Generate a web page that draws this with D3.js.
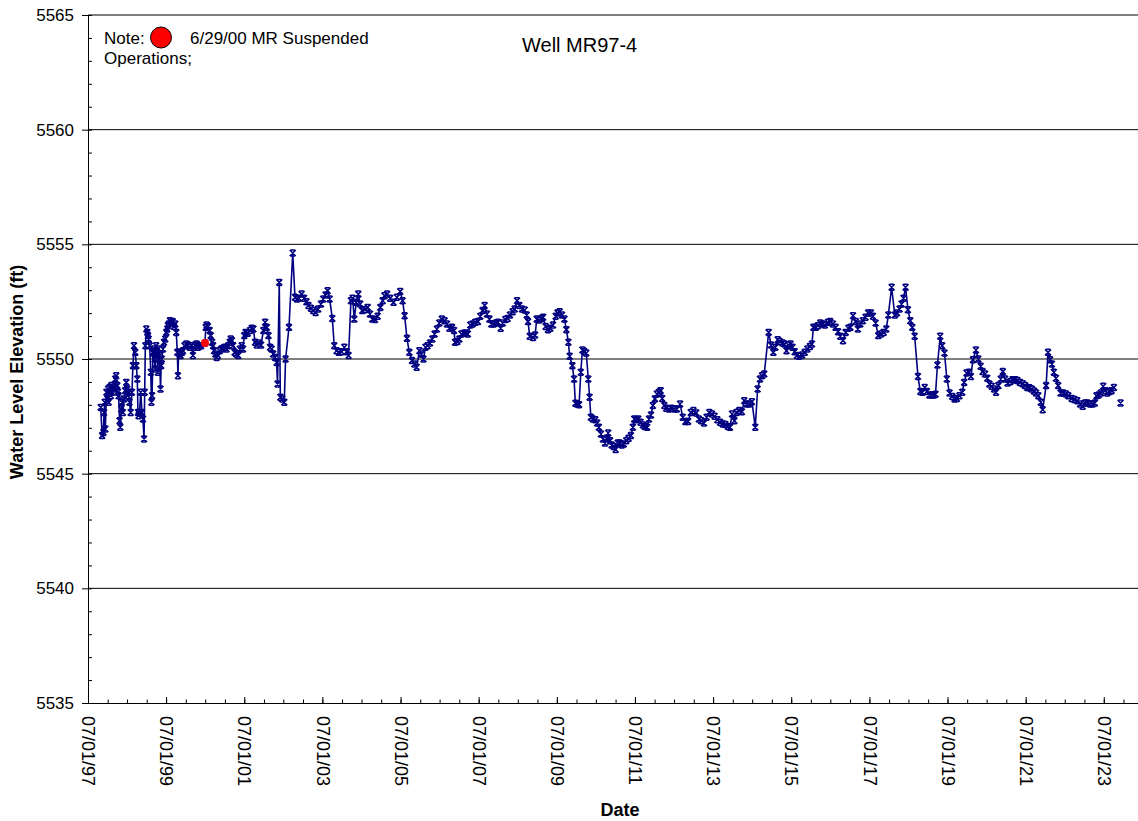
<!DOCTYPE html>
<html>
<head>
<meta charset="utf-8">
<script src="https://cdn.jsdelivr.net/npm/d3@7"></script>
<style>
  body { margin: 0; background: #fff; }
  text { font-family: "Liberation Sans", Arial, sans-serif; }
</style>
</head>
<body>
<svg id="chart" width="1138" height="821"></svg>
<script>
// water level readings, well MR97-4
var dates = [
  "1997-10-28","1997-11-10","1997-11-22","1997-11-28","1997-12-04","1997-12-10","1997-12-20","1997-12-29",
  "1998-01-05","1998-01-11","1998-01-20","1998-01-30","1998-02-05","1998-02-12","1998-02-21","1998-03-01",
  "1998-03-13","1998-03-22","1998-04-01","1998-04-07","1998-04-13","1998-04-22","1998-04-29","1998-05-08",
  "1998-05-14","1998-05-23","1998-06-02","1998-06-14","1998-06-24","1998-07-03","1998-07-09","1998-07-15",
  "1998-07-24","1998-08-04","1998-08-16","1998-08-25","1998-09-04","1998-09-16","1998-09-26","1998-10-05",
  "1998-10-11","1998-10-17","1998-10-26","1998-11-06","1998-11-18","1998-11-27","1998-12-07","1998-12-13",
  "1998-12-19","1998-12-28","1999-01-07","1999-01-13","1999-01-19","1999-01-29","1999-02-08","1999-02-14",
  "1999-02-20","1999-02-28","1999-03-09","1999-03-15","1999-03-21","1999-03-30","1999-04-09","1999-04-15",
  "1999-04-21","1999-05-01","1999-05-10","1999-05-16","1999-05-22","1999-06-02","1999-06-11","1999-06-23",
  "1999-07-03","1999-07-12","1999-07-18","1999-07-27","1999-08-06","1999-08-18","1999-09-01","1999-09-13",
  "1999-09-25","1999-10-04","1999-10-14","1999-10-20","1999-10-26","1999-11-05","1999-11-14","1999-11-26",
  "1999-12-06","1999-12-21","2000-01-06","2000-01-22","2000-02-07","2000-02-22","2000-03-08","2000-03-17",
  "2000-03-29","2000-04-11","2000-04-24","2000-05-09","2000-05-24","2000-06-29","2000-07-06","2000-07-14","2000-07-26",
  "2000-08-11","2000-08-21","2000-09-03","2000-09-12","2000-09-21","2000-10-04","2000-10-16","2000-10-28",
  "2000-11-13","2000-11-29","2000-12-14","2000-12-30","2001-01-15","2001-01-31","2001-02-15","2001-02-24",
  "2001-03-07","2001-03-19","2001-04-02","2001-04-17",
  "2001-05-06","2001-05-21","2001-06-07","2001-06-19","2001-07-01","2001-07-14","2001-08-02","2001-08-24",
  "2001-09-09","2001-09-24","2001-10-10","2001-10-25","2001-11-16","2001-12-05","2001-12-26","2002-01-12",
  "2002-01-27","2002-02-12","2002-02-27","2002-03-13","2002-03-28","2002-04-14","2002-04-29","2002-05-08",
  "2002-05-24","2002-06-03","2002-06-21","2002-07-10","2002-07-22","2002-08-23","2002-09-27","2002-10-18",
  "2002-11-06","2002-11-25","2002-12-19","2003-01-11","2003-02-02","2003-02-21","2003-03-16","2003-04-07",
  "2003-04-29","2003-05-23","2003-06-18","2003-07-09","2003-07-31","2003-08-19","2003-09-07","2003-10-02",
  "2003-10-20","2003-11-11","2003-12-03","2003-12-28","2004-01-22","2004-02-13","2004-03-02","2004-03-24",
  "2004-04-09","2004-04-24","2004-05-13","2004-06-01","2004-06-19","2004-07-08","2004-08-02","2004-08-27",
  "2004-09-18","2004-10-10","2004-11-04","2004-11-29","2004-12-24","2005-01-15","2005-02-01",
  "2005-02-25","2005-03-26","2005-04-26","2005-05-28","2005-06-28","2005-07-20","2005-08-08","2005-08-30",
  "2005-09-21","2005-10-16","2005-11-07","2005-11-29","2005-12-24","2006-01-12","2006-01-31","2006-02-19",
  "2006-03-10","2006-04-02","2006-04-24","2006-05-15","2006-06-06","2006-06-28","2006-07-22","2006-08-17",
  "2006-09-08","2006-09-30","2006-10-25","2006-11-13","2006-11-22","2006-12-14","2007-01-02","2007-01-21",
  "2007-02-12","2007-03-04","2007-03-22","2007-04-13","2007-05-05","2007-05-30","2007-06-24","2007-07-16",
  "2007-08-07","2007-08-26","2007-09-17","2007-10-09","2007-10-27","2007-11-18","2007-12-10","2007-12-29",
  "2008-01-23","2008-02-11","2008-03-06","2008-03-28","2008-04-19","2008-05-14","2008-06-02","2008-06-24",
  "2008-07-15","2008-08-09","2008-09-04","2008-09-22","2008-10-05","2008-10-20",
  "2008-11-21","2008-12-10","2008-12-25","2009-01-16","2009-02-08","2009-02-23","2009-03-18","2009-04-09",
  "2009-05-01","2009-05-26","2009-06-20","2009-07-08","2009-07-27","2009-08-18","2009-09-10","2009-09-28",
  "2009-10-17","2009-10-29","2009-11-23","2009-12-09","2009-12-21","2010-01-06","2010-01-25","2010-02-10",
  "2010-02-25","2010-03-14","2010-04-02","2010-04-21","2010-05-03","2010-05-15","2010-06-03","2010-06-25",
  "2010-07-13","2010-07-29","2010-08-17","2010-09-05","2010-09-24","2010-10-09","2010-10-24","2010-11-10",
  "2010-11-25","2010-12-14","2011-01-02","2011-01-21","2011-02-09","2011-03-01","2011-03-19","2011-04-11",
  "2011-05-02","2011-05-24","2011-06-12","2011-06-24","2011-07-13","2011-08-01","2011-08-23","2011-09-14",
  "2011-10-02","2011-10-24","2011-11-09","2011-11-28","2011-12-16","2012-01-04","2012-01-23","2012-02-11",
  "2012-02-26","2012-03-12","2012-04-01","2012-04-19","2012-05-14","2012-06-08","2012-07-03","2012-07-28",
  "2012-08-26","2012-09-20","2012-10-15","2012-11-09","2012-12-04","2012-12-29","2013-01-23","2013-02-17",
  "2013-03-12","2013-04-07","2013-05-01","2013-05-26","2013-06-20","2013-07-15","2013-08-09","2013-09-04",
  "2013-09-29","2013-10-23","2013-11-17","2013-12-06","2013-12-25","2014-01-16","2014-02-04","2014-03-02",
  "2014-03-27","2014-04-18","2014-05-10","2014-06-04","2014-06-29","2014-07-30","2014-08-21","2014-09-12",
  "2014-10-01","2014-10-22","2014-12-02","2014-12-24","2015-01-15","2015-02-03","2015-02-25","2015-03-16",
  "2015-04-11","2015-04-30","2015-05-18","2015-06-03","2015-06-25","2015-07-13","2015-08-02","2015-08-23",
  "2015-09-15","2015-10-10","2015-11-04","2015-11-29","2015-12-23","2016-01-11","2016-01-24","2016-02-15",
  "2016-03-07","2016-03-29","2016-04-20","2016-05-11",
  "2016-06-09","2016-06-30","2016-07-25","2016-08-19","2016-09-11","2016-10-02","2016-10-27","2016-11-21",
  "2016-12-16","2017-01-04","2017-01-29","2017-02-23","2017-03-15","2017-04-07","2017-05-01","2017-05-26",
  "2017-06-20","2017-07-15","2017-08-03","2017-08-28","2017-09-22","2017-10-17","2017-11-11","2017-12-06",
  "2017-12-25","2018-01-25","2018-02-23","2018-03-15","2018-04-09","2018-04-28","2018-05-16","2018-06-04",
  "2018-06-26","2018-07-18","2018-08-06","2018-08-28","2018-09-28","2018-10-20","2018-11-08","2018-11-30",
  "2018-12-21","2019-01-12","2019-02-03","2019-02-25","2019-03-11","2019-03-29","2019-04-24","2019-05-12",
  "2019-06-03","2019-06-25","2019-07-20","2019-08-14","2019-09-05","2019-09-27","2019-10-21","2019-11-16",
  "2019-12-04","2019-12-26","2020-01-17","2020-02-05","2020-02-24",
  "2020-03-23","2020-04-14","2020-05-06","2020-05-24","2020-06-16","2020-07-07","2020-07-26","2020-08-17",
  "2020-09-08","2020-09-27","2020-10-19","2020-11-10","2020-11-29","2020-12-20","2021-01-12","2021-02-06",
  "2021-03-01","2021-03-23","2021-04-14","2021-05-08","2021-06-03","2021-06-25","2021-07-16","2021-08-04",
  "2021-08-26","2021-09-17","2021-10-06","2021-10-27","2021-11-19","2021-12-07","2022-01-08","2022-01-26",
  "2022-02-14","2022-03-03","2022-03-21","2022-04-10","2022-05-01","2022-05-23","2022-06-17","2022-07-12",
  "2022-08-03","2022-09-04","2022-09-29","2022-10-26","2022-11-21","2022-12-16","2023-01-07","2023-01-29",
  "2023-02-23","2023-03-18","2023-04-09","2023-04-24","2023-05-13","2023-06-04","2023-06-26","2023-07-14",
  "2023-08-02","2023-08-24","2023-09-12","2023-10-04","2023-11-05","2023-12-05"
];
var levels = [
  5547.89,5546.66,5546.80,5547.67,5548.11,5546.95,5548.55,5548.26,
  5548.69,5548.11,5548.76,5548.40,5548.84,5548.55,5548.76,5548.69,
  5549.13,5549.27,5548.84,5548.55,5548.40,5547.31,5547.02,5547.82,
  5548.11,5547.67,5548.26,5548.62,5548.98,5548.69,5548.40,5548.55,
  5548.11,5547.67,5548.55,5549.71,5550.58,5550.29,5549.71,5549.13,
  5547.67,5547.53,5547.67,5548.55,5547.67,5547.38,5546.51,5548.55,
  5550.58,5551.31,5551.16,5551.02,5550.87,5550.58,5549.42,5548.11,
  5548.40,5550.29,5550.44,5550.00,5549.56,5550.58,5550.29,5549.42,
  5550.44,5550.15,5548.69,5549.71,5550.00,5550.44,5550.73,5550.87,
  5551.16,5551.31,5551.45,5551.53,5551.67,5551.60,5551.63,5551.42,
  5551.53,5551.16,5550.29,5549.27,5550.29,5550.22,5550.15,5550.29,
  5550.36,5550.58,5550.65,5550.61,5550.51,5550.58,5550.15,5550.51,
  5550.61,5550.65,5550.51,5550.58,5550.58,5550.70,5551.38,5551.48,5551.42,
  5551.24,5551.02,5550.73,5550.58,5550.36,5550.22,5550.07,5550.15,
  5550.36,5550.44,5550.47,5550.51,5550.44,5550.58,5550.73,5550.87,
  5550.80,5550.58,5550.29,5550.22,
  5550.15,5550.44,5550.58,5550.44,5551.02,5551.16,5551.12,5551.24,
  5551.34,5551.31,5550.73,5550.61,5550.70,5550.61,5551.24,5551.60,
  5551.38,5551.02,5550.51,5550.44,5550.22,5550.07,5549.85,5548.91,
  5553.34,5548.33,5548.26,5548.11,5550.00,5551.38,5554.62,5552.69,
  5552.62,5552.65,5552.83,5552.65,5552.50,5552.33,5552.21,5552.11,
  5552.03,5552.18,5552.40,5552.62,5552.79,5552.98,5552.62,5551.77,
  5550.58,5550.36,5550.29,5550.32,5550.51,5550.32,5550.15,5552.54,
  5552.65,5551.74,5552.47,5552.83,5552.40,5552.11,5552.15,5552.25,
  5551.96,5551.74,5551.72,5551.86,5552.25,5552.54,5552.76,
  5552.83,5552.65,5552.47,5552.69,5552.94,5552.54,5551.89,5550.90,
  5550.29,5549.93,5549.78,5549.64,5550.36,5550.22,5550.00,5550.51,
  5550.58,5550.70,5550.87,5551.09,5551.31,5551.57,5551.74,5551.67,
  5551.53,5551.34,5551.38,5551.24,5550.73,5550.76,5550.87,5551.09,
  5551.12,5551.13,5551.09,5551.48,5551.53,5551.60,5551.63,5551.86,
  5552.11,5552.33,5551.96,5551.74,5551.53,5551.53,5551.57,5551.60,
  5551.34,5551.57,5551.72,5551.77,5551.92,5552.06,5552.18,5552.54,
  5552.33,5552.18,5552.14,5551.92,5551.63,5550.99,
  5550.94,5551.05,5551.74,5551.70,5551.77,5551.82,5551.42,5551.28,
  5551.34,5551.48,5551.86,5552.01,5552.06,5551.92,5551.74,5551.28,
  5550.73,5550.12,5549.71,5549.13,5548.07,5548.04,5548.01,5549.42,
  5550.39,5550.33,5550.26,5549.13,5548.33,5547.46,5547.38,5547.35,
  5547.21,5547.02,5546.73,5546.51,5546.34,5546.54,5546.77,5546.44,
  5546.25,5546.19,5546.05,5546.34,5546.34,5546.25,5546.29,5546.44,
  5546.54,5546.66,5547.02,5547.38,5547.35,5547.38,5547.24,5547.12,
  5547.06,5547.02,5547.38,5547.56,5547.97,5548.26,5548.47,5548.55,
  5548.62,5548.28,5547.97,5547.85,5547.82,5547.85,5547.82,5547.82,
  5548.04,5547.46,5547.27,5547.28,5547.67,5547.75,5547.65,5547.38,
  5547.31,5547.21,5547.46,5547.67,5547.60,5547.50,5547.35,5547.24,
  5547.17,5547.14,5547.06,5547.02,5547.60,5547.31,5547.67,5547.75,
  5547.70,5548.18,5548.04,5548.04,5548.14,5547.02,5548.69,5549.13,
  5549.27,5549.35,5551.16,5550.61,5550.29,5550.51,5550.84,5550.76,
  5550.70,5550.65,5550.36,5550.61,5550.65,5550.51,5550.32,5550.15,
  5550.12,5550.17,5550.29,5550.44,5550.55,5550.65,5551.38,5551.38,
  5551.45,5551.57,5551.53,5551.48,
  5551.60,5551.63,5551.53,5551.38,5551.19,5550.99,5550.80,5551.16,
  5551.34,5551.38,5551.89,5551.63,5551.31,5551.53,5551.67,5551.82,
  5552.01,5552.01,5551.86,5551.57,5551.02,5551.09,5551.16,5551.31,
  5551.92,5553.13,5551.92,5552.01,5552.18,5552.40,5552.65,5553.13,
  5552.15,5551.67,5551.38,5550.99,5549.24,5548.58,5548.55,5548.76,
  5548.58,5548.43,5548.43,5548.43,5548.46,5549.74,5550.99,5550.58,
  5550.26,5549.13,5548.52,5548.37,5548.26,5548.28,5548.40,5548.55,
  5548.98,5549.39,5549.42,5549.24,5549.97,
  5550.39,5550.00,5549.68,5549.45,5549.35,5549.16,5548.91,5548.81,
  5548.69,5548.55,5548.84,5549.13,5549.45,5549.13,5548.95,5549.01,
  5549.10,5549.10,5549.06,5548.98,5548.92,5548.84,5548.76,5548.75,
  5548.69,5548.60,5548.52,5548.40,5548.11,5547.79,5548.84,5550.29,
  5549.97,5549.78,5549.42,5549.16,5548.84,5548.52,5548.52,5548.47,
  5548.40,5548.28,5548.23,5548.18,5548.04,5547.94,5548.08,5548.08,
  5548.04,5548.04,5548.08,5548.40,5548.43,5548.52,5548.81,5548.62,
  5548.52,5548.58,5548.62,5548.76,null,5548.08
];

// note point (MR suspended operations)
var noteDates = ["2000-06-29"];
var noteLevels = [5550.70];

var yTicks = [5535, 5540, 5545, 5550, 5555, 5560, 5565];
var xLabelDates = ["1997-07-01","1999-07-01","2001-07-01","2003-07-01","2005-07-01","2007-07-01","2009-07-01",
                   "2011-07-01","2013-07-01","2015-07-01","2017-07-01","2019-07-01","2021-07-01","2023-07-01"];

var margin = {top: 15, right: 0, bottom: 118, left: 88},
    width = 1138 - margin.left - margin.right,
    height = 821 - margin.top - margin.bottom;

var parse = d3.timeParse("%Y-%m-%d");
var data = dates.map(function(d, i) { return {date: parse(d), v: levels[i]}; });
var noteData = noteDates.map(function(d, i) { return {date: parse(d), v: noteLevels[i]}; });

var x = d3.scaleTime()
    .domain([parse("1997-07-01"), parse("2024-05-16")])
    .range([0, width]);
var y = d3.scaleLinear()
    .domain([5535, 5565])
    .range([height, 0]);

var svg = d3.select("#chart");
var g = svg.append("g").attr("transform", "translate(" + margin.left + "," + margin.top + ")");

// horizontal gridlines
g.selectAll(".grid")
    .data(yTicks.slice(1))
  .enter().append("line")
    .attr("class", "grid")
    .attr("x1", 0).attr("x2", width)
    .attr("y1", function(d) { return y(d); })
    .attr("y2", function(d) { return y(d); })
    .attr("stroke", "#000")
    .attr("stroke-width", 1);

// y axis, major ticks outside, minor inside
var yAxis = g.append("g")
    .call(d3.axisLeft(y).tickValues(yTicks).tickFormat(d3.format("d"))
        .tickSize(6).tickSizeOuter(0).tickPadding(8));
yAxis.selectAll("text").style("font-size", "17px").attr("fill", "#000");
yAxis.selectAll("line, path").attr("stroke", "#000");

var yMinor = g.append("g")
    .call(d3.axisRight(y).tickValues(d3.range(5535, 5566, 1)).tickSize(4).tickFormat(""));
yMinor.select(".domain").remove();
yMinor.selectAll("line").attr("stroke", "#000");

// x axis, ticks pointing up into the plot
var xAxis = g.append("g")
    .attr("transform", "translate(0," + height + ")")
    .call(d3.axisBottom(x)
        .tickValues(xLabelDates.map(parse))
        .tickSize(-6).tickSizeOuter(0)
        .tickFormat(d3.timeFormat("%m/%d/%y")));
xAxis.selectAll("line, path").attr("stroke", "#000");
xAxis.selectAll("text")
    .attr("y", 0)
    .attr("x", 13)
    .attr("dy", "0.35em")
    .attr("transform", "rotate(90)")
    .style("text-anchor", "start")
    .style("font-size", "18px")
    .attr("fill", "#000");

var xMinor = g.append("g")
    .attr("transform", "translate(0," + height + ")")
    .call(d3.axisBottom(x).ticks(d3.timeMonth.every(6)).tickSize(-3.5).tickFormat(""));
xMinor.select(".domain").remove();
xMinor.selectAll("line").attr("stroke", "#000");

// water level line
var line = d3.line()
    .defined(function(d) { return d.v != null; })
    .x(function(d) { return x(d.date); })
    .y(function(d) { return y(d.v); });

g.append("path")
    .datum(data)
    .attr("fill", "none")
    .attr("stroke", "#000080")
    .attr("stroke-width", 1.6)
    .attr("d", line);

// star markers
g.selectAll(".mark")
    .data(data.filter(function(d) { return d.v != null; }))
  .enter().append("path")
    .attr("class", "mark")
    .attr("transform", function(d) { return "translate(" + x(d.date) + "," + y(d.v) + ")"; })
    .attr("d", "M-3,-3L3,3M-3,3L3,-3M-2.2,-3L2.2,-3M-2.2,3L2.2,3")
    .attr("stroke", "#000080")
    .attr("stroke-width", 1.5)
    .attr("fill", "none");

// red note point
g.selectAll(".note")
    .data(noteData)
  .enter().append("circle")
    .attr("cx", function(d) { return x(d.date); })
    .attr("cy", function(d) { return y(d.v); })
    .attr("r", 4)
    .attr("fill", "#ff0000");

// annotation
svg.append("text").attr("x", 104).attr("y", 44).style("font-size", "17px").text("Note:");
svg.append("circle").attr("cx", 161).attr("cy", 37.5).attr("r", 10.5)
    .attr("fill", "#ff0000").attr("stroke", "#000").attr("stroke-width", 1);
svg.append("text").attr("x", 190).attr("y", 44).style("font-size", "17px").text("6/29/00 MR Suspended");
svg.append("text").attr("x", 104).attr("y", 64).style("font-size", "17px").text("Operations;");

// title and axis titles
svg.append("text").attr("x", 522).attr("y", 52).style("font-size", "20px").text("Well MR97-4");

svg.append("text")
    .attr("transform", "translate(23,372) rotate(-90)")
    .attr("text-anchor", "middle")
    .style("font-size", "18px")
    .style("font-weight", "bold")
    .text("Water Level Elevation (ft)");

svg.append("text")
    .attr("x", 620).attr("y", 816)
    .attr("text-anchor", "middle")
    .style("font-size", "18px")
    .style("font-weight", "bold")
    .text("Date");
</script>
</body>
</html>
